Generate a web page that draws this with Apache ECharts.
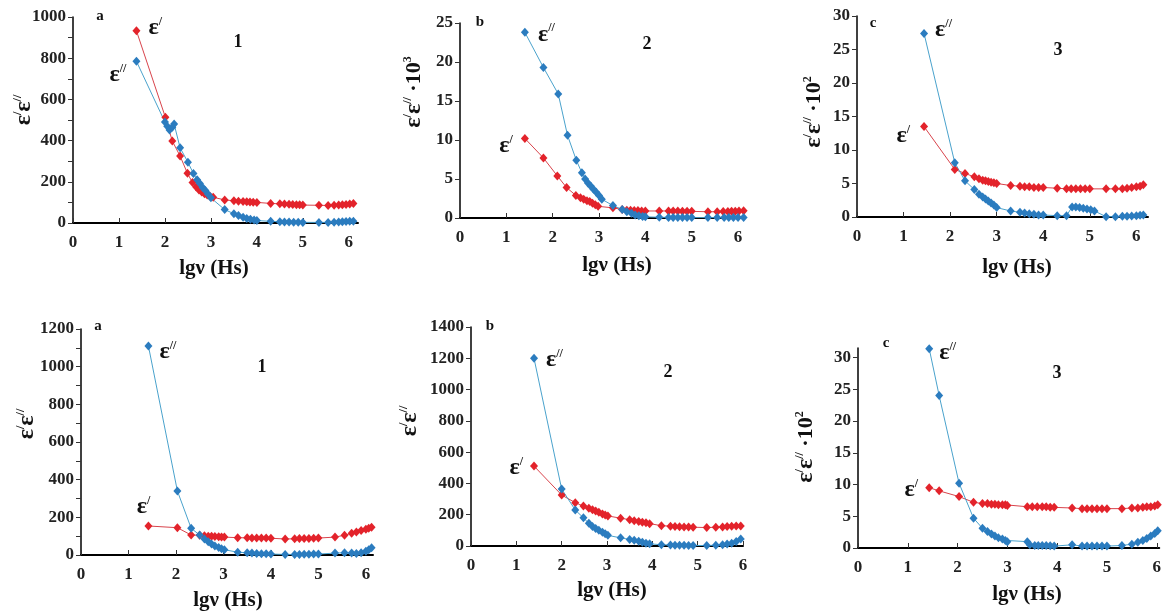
<!DOCTYPE html>
<html>
<head>
<meta charset="utf-8">
<script src="https://cdn.jsdelivr.net/npm/echarts@6/dist/echarts.min.js"></script>
<style>
  html, body { margin: 0; padding: 0; background: #fff; }
  #chart { width: 1164px; height: 615px; }
</style>
</head>
<body>
<div id="chart"></div>
<script>
// lg(nu) values on x, eps' (red) and eps'' (blue) on y
const xTickValues = [0, 1, 2, 3, 4, 5, 6];

const p1Red = [[1.38,933],[2.01,513],[2.16,398],[2.33,325],[2.49,241],[2.6,196],[2.68,175],[2.74,160],[2.8,150],[2.86,142],[2.92,136],[2.98,130],[3.05,125],[3.3,112],[3.5,108],[3.6,106],[3.7,104],[3.78,103],[3.85,102],[3.92,101],[4.0,100],[4.3,95],[4.5,93],[4.6,92],[4.7,91],[4.78,90],[4.86,89],[4.93,88],[5.0,87],[5.35,86],[5.55,85],[5.68,86],[5.78,87],[5.86,88],[5.94,90],[6.02,92],[6.1,95]];
const p1Blue = [[1.38,785],[2.0,490],[2.05,470],[2.1,452],[2.16,465],[2.2,480],[2.33,365],[2.5,295],[2.62,240],[2.7,210],[2.76,192],[2.82,172],[2.88,158],[2.94,140],[3.0,122],[3.3,65],[3.5,45],[3.6,36],[3.7,28],[3.78,22],[3.86,18],[3.94,15],[4.0,12],[4.3,8],[4.5,6],[4.6,5],[4.7,5],[4.8,4],[4.9,4],[5.0,3],[5.35,3],[5.55,3],[5.68,4],[5.78,5],[5.86,6],[5.94,7],[6.02,8],[6.1,9]];

const p2Red = [[1.4,10.2],[1.8,7.7],[2.1,5.4],[2.3,3.9],[2.5,2.9],[2.6,2.6],[2.67,2.4],[2.74,2.2],[2.8,2.1],[2.86,1.9],[2.92,1.7],[2.98,1.5],[3.3,1.3],[3.5,1.1],[3.6,1.0],[3.68,1.0],[3.76,0.95],[3.84,0.95],[3.92,0.9],[4.0,0.9],[4.3,0.9],[4.5,0.9],[4.6,0.9],[4.7,0.9],[4.8,0.88],[4.9,0.86],[5.0,0.85],[5.35,0.8],[5.55,0.8],[5.68,0.82],[5.78,0.84],[5.86,0.86],[5.94,0.88],[6.02,0.9],[6.12,0.92]];
const p2Blue = [[1.4,23.8],[1.8,19.3],[2.12,15.9],[2.32,10.6],[2.51,7.4],[2.63,5.8],[2.7,5.0],[2.76,4.5],[2.82,4.1],[2.88,3.7],[2.94,3.3],[3.0,2.9],[3.06,2.4],[3.3,1.6],[3.5,1.1],[3.6,0.8],[3.7,0.6],[3.78,0.4],[3.86,0.3],[3.94,0.2],[4.0,0.15],[4.3,0.1],[4.5,0.08],[4.6,0.07],[4.7,0.06],[4.8,0.05],[4.9,0.05],[5.0,0.05],[5.35,0.05],[5.55,0.05],[5.7,0.05],[5.8,0.05],[5.9,0.05],[6.0,0.05],[6.12,0.05]];

const p3Red = [[1.44,13.5],[2.1,7.1],[2.32,6.5],[2.52,6.0],[2.62,5.7],[2.7,5.5],[2.76,5.4],[2.82,5.3],[2.88,5.2],[2.94,5.1],[3.0,5.0],[3.3,4.7],[3.5,4.6],[3.6,4.5],[3.7,4.5],[3.8,4.4],[3.9,4.4],[4.0,4.4],[4.3,4.3],[4.5,4.2],[4.6,4.2],[4.7,4.2],[4.8,4.2],[4.9,4.2],[5.0,4.2],[5.35,4.2],[5.55,4.2],[5.7,4.2],[5.8,4.3],[5.9,4.4],[6.0,4.5],[6.08,4.6],[6.15,4.8]];
const p3Blue = [[1.44,27.4],[2.1,8.1],[2.32,5.4],[2.52,4.1],[2.62,3.4],[2.7,3.0],[2.76,2.7],[2.82,2.4],[2.88,2.1],[2.94,1.8],[3.0,1.4],[3.3,0.9],[3.5,0.7],[3.6,0.6],[3.7,0.5],[3.8,0.4],[3.9,0.3],[4.0,0.3],[4.3,0.2],[4.5,0.2],[4.62,1.5],[4.7,1.5],[4.78,1.4],[4.86,1.3],[4.94,1.2],[5.02,1.1],[5.1,0.9],[5.35,0.05],[5.55,0.05],[5.7,0.1],[5.8,0.1],[5.9,0.15],[6.0,0.2],[6.08,0.25],[6.15,0.3]];

const p4Red = [[1.42,154],[2.03,145],[2.32,106],[2.5,105],[2.6,102],[2.68,100],[2.75,99],[2.82,98],[2.9,97],[2.96,96],[3.02,95],[3.3,92],[3.5,91],[3.6,90],[3.7,90],[3.8,90],[3.9,90],[4.0,89],[4.3,85],[4.5,86],[4.6,87],[4.7,88],[4.8,88],[4.9,89],[5.0,90],[5.35,95],[5.55,105],[5.7,115],[5.8,122],[5.9,130],[6.0,137],[6.06,142],[6.12,148]];
const p4Blue = [[1.42,1110],[2.03,340],[2.32,142],[2.5,106],[2.6,85],[2.68,70],[2.75,58],[2.82,48],[2.9,40],[2.96,33],[3.02,28],[3.3,15],[3.5,12],[3.6,10],[3.7,8],[3.8,7],[3.9,6],[4.0,5],[4.3,3],[4.5,3],[4.6,3],[4.7,4],[4.8,4],[4.9,5],[5.0,5],[5.35,10],[5.55,12],[5.7,10],[5.8,8],[5.9,12],[6.0,20],[6.06,28],[6.12,38]];

const p5Red = [[1.39,511],[2.0,326],[2.3,277],[2.48,255],[2.6,242],[2.68,232],[2.75,224],[2.82,215],[2.9,205],[2.96,198],[3.02,192],[3.3,178],[3.5,168],[3.6,162],[3.7,157],[3.78,152],[3.86,148],[3.94,143],[4.2,130],[4.4,127],[4.5,125],[4.6,123],[4.7,122],[4.8,121],[4.9,120],[5.2,118],[5.4,120],[5.55,122],[5.65,124],[5.75,126],[5.85,128],[5.95,128]];
const p5Blue = [[1.39,1200],[2.0,364],[2.3,230],[2.48,180],[2.6,145],[2.68,125],[2.75,112],[2.82,100],[2.9,88],[2.96,78],[3.02,68],[3.3,52],[3.5,42],[3.6,36],[3.7,30],[3.78,24],[3.86,18],[3.94,14],[4.2,8],[4.4,6],[4.5,5],[4.6,4],[4.7,4],[4.8,3],[4.9,3],[5.2,3],[5.4,5],[5.55,8],[5.65,12],[5.75,18],[5.85,28],[5.95,45]];

const p6Red = [[1.43,9.5],[1.63,9.0],[2.03,8.1],[2.32,7.2],[2.5,7.0],[2.6,7.0],[2.68,6.9],[2.75,6.9],[2.82,6.8],[2.9,6.8],[2.96,6.8],[3.0,6.7],[3.4,6.5],[3.5,6.5],[3.6,6.5],[3.7,6.5],[3.78,6.5],[3.86,6.4],[3.94,6.4],[4.3,6.3],[4.5,6.2],[4.6,6.2],[4.7,6.2],[4.8,6.2],[4.9,6.2],[5.0,6.2],[5.3,6.2],[5.5,6.3],[5.62,6.3],[5.72,6.4],[5.8,6.5],[5.88,6.5],[5.96,6.6],[6.02,6.8]];
const p6Blue = [[1.43,31.4],[1.63,24.0],[2.03,10.2],[2.32,4.7],[2.5,3.1],[2.6,2.6],[2.68,2.2],[2.75,1.9],[2.82,1.6],[2.9,1.4],[2.96,1.2],[3.0,1.0],[3.4,1.0],[3.45,0.5],[3.55,0.4],[3.62,0.4],[3.7,0.4],[3.78,0.4],[3.86,0.35],[3.94,0.3],[4.3,0.5],[4.5,0.3],[4.6,0.3],[4.7,0.3],[4.8,0.3],[4.9,0.3],[5.0,0.3],[5.3,0.4],[5.5,0.6],[5.62,0.9],[5.72,1.2],[5.8,1.5],[5.88,1.9],[5.96,2.3],[6.02,2.7]];

const y1Ticks = [0,100,200,300,400,500,600,700,800,900,1000];
const y1Labels = [0,200,400,600,800,1000];
const y2Labels = [0,5,10,15,20,25];
const y3Labels = [0,5,10,15,20,25,30];
const y4Ticks = [0,100,200,300,400,500,600,700,800,900,1000,1100,1200];
const y4Labels = [0,200,400,600,800,1000,1200];
const y5Labels = [0,200,400,600,800,1000,1200,1400];
const y6Labels = [0,5,10,15,20,25,30];

const FONT = 'Liberation Serif';
const RED = '#e3232b';
const RED_LINE = '#d8434b';
const BLUE = '#2b7cbf';
const BLUE_LINE = '#4aa2cc';

const panels = [
  { grid: [73, 17, 285, 206], xMax: 6.2, yMax: 1000, yTicks: y1Ticks, yLabels: y1Labels, red: p1Red, blue: p1Blue,
    redLab: ['right', [3, -3]], blueLab: ['left', [-1, 14]],
    letter: ['a', 100, 16], num: ['1', 238, 42], xName: [214, 269], yName: [24, 110, false] },
  { grid: [460, 23, 285, 195], xMax: 6.15, yMax: 25, yTicks: y2Labels, yLabels: y2Labels, red: p2Red, blue: p2Blue,
    redLab: ['left', [-3, 7]], blueLab: ['right', [4, 2]],
    letter: ['b', 480, 22], num: ['2', 647, 44], xName: [617, 266], yName: [414, 92, '3'] },
  { grid: [857, 16, 291, 201], xMax: 6.25, yMax: 30, yTicks: y3Labels, yLabels: y3Labels, red: p3Red, blue: p3Blue,
    redLab: ['left', [-5, 9]], blueLab: ['right', [2, -4]],
    letter: ['c', 873, 23], num: ['3', 1058, 50], xName: [1017, 268], yName: [814, 112, '2'] },
  { grid: [81, 329, 292, 226], xMax: 6.15, yMax: 1200, yTicks: y4Ticks, yLabels: y4Labels, red: p4Red, blue: p4Blue,
    redLab: ['top', [-5, 2]], blueLab: ['right', [2, 6]],
    letter: ['a', 98, 326], num: ['1', 262, 367], xName: [228, 601], yName: [27, 424, false] },
  { grid: [471, 327, 272, 219], xMax: 6.0, yMax: 1400, yTicks: y5Labels, yLabels: y5Labels, red: p5Red, blue: p5Blue,
    redLab: ['left', [-2, 2]], blueLab: ['right', [3, 2]],
    letter: ['b', 490, 326], num: ['2', 668, 372], xName: [612, 591], yName: [410, 421, false] },
  { grid: [858, 348, 304, 200], xMax: 6.05, yMax: 31.5, yTicks: y6Labels, yLabels: y6Labels, red: p6Red, blue: p6Blue,
    redLab: ['left', [-2, 2]], blueLab: ['right', [1, 4]],
    letter: ['c', 886, 343], num: ['3', 1057, 373], xName: [1027, 595], yName: [806, 447, '2'] }
];

const epsRich = {
  e: { fontFamily: FONT, fontWeight: 'bold', fontSize: 24, color: '#111' },
  s: { fontFamily: FONT, fontWeight: 'bold', fontSize: 12, color: '#111', verticalAlign: 'top', padding: [0, 0, 10, 0] },
  t: { fontFamily: FONT, fontWeight: 'bold', fontSize: 22, color: '#111' }
};

function pointLabel(text, lab) {
  return {
    show: true,
    position: lab[0],
    offset: lab[1],
    formatter: text,
    rich: epsRich
  };
}

function makeSeries(p, i, pts, color, lineColor, text, lab) {
  return {
    type: 'line',
    xAxisIndex: i,
    yAxisIndex: i,
    symbol: 'diamond',
    symbolSize: [8, 9],
    showAllSymbol: true,
    itemStyle: { color: color },
    lineStyle: { color: lineColor, width: 1 },
    emphasis: { disabled: true },
    data: pts.map((d, k) => k === 0 ? { value: d, label: pointLabel(text, lab) } : d)
  };
}

const labelStyle = { color: '#222', fontFamily: FONT, fontWeight: 'bold', fontSize: 17, formatter: v => String(v) };

const option = {
  animation: false,
  textStyle: { fontFamily: FONT },
  grid: panels.map(p => ({ left: p.grid[0], top: p.grid[1], width: p.grid[2], height: p.grid[3] })),
  xAxis: panels.map((p, i) => ({
    type: 'value', gridIndex: i, min: 0, max: p.xMax,
    axisLine: { show: true, onZero: false, lineStyle: { color: '#000', width: 2 } },
    axisTick: { show: true, inside: true, length: 5, customValues: xTickValues, lineStyle: { color: '#333' } },
    axisLabel: Object.assign({ margin: 11, customValues: xTickValues }, labelStyle),
    splitLine: { show: false }
  })),
  yAxis: panels.map((p, i) => ({
    type: 'value', gridIndex: i, min: 0, max: p.yMax,
    axisLine: { show: true, lineStyle: { color: '#000', width: 1.5 } },
    axisTick: { show: true, length: 5, customValues: p.yTicks, lineStyle: { color: '#333' } },
    axisLabel: Object.assign({ margin: 7, customValues: p.yLabels }, labelStyle),
    splitLine: { show: false }
  })),
  series: [],
  graphic: []
};

panels.forEach((p, i) => {
  option.series.push(makeSeries(p, i, p.red, RED, RED_LINE, '{e|ε}{s|/}', p.redLab));
  option.series.push(makeSeries(p, i, p.blue, BLUE, BLUE_LINE, '{e|ε}{s|//}', p.blueLab));

  const t = (txt, x, y, size) => ({
    type: 'text', x: x, y: y, silent: true,
    style: { text: txt, fill: '#111', fontFamily: FONT, fontWeight: 'bold', fontSize: size,
      textAlign: 'center', textVerticalAlign: 'middle', align: 'center', verticalAlign: 'middle' }
  });
  option.graphic.push(t(p.letter[0], p.letter[1], p.letter[2], 15));
  option.graphic.push(t(p.num[0], p.num[1], p.num[2], 18));
  option.graphic.push(t('lgν (Hs)', p.xName[0], p.xName[1], 21));

  let yText = '{e|ε}{s|/}{e|ε}{s|//}';
  if (p.yName[2]) yText += '{t| ·10}{s|' + p.yName[2] + '}';
  option.graphic.push({
    type: 'text', x: p.yName[0], y: p.yName[1], rotation: Math.PI / 2, silent: true,
    style: { text: yText, rich: epsRich, fill: '#111', fontFamily: FONT, fontWeight: 'bold', fontSize: 24,
      textAlign: 'center', textVerticalAlign: 'middle', align: 'center', verticalAlign: 'middle' }
  });
});

const myChart = echarts.init(document.getElementById('chart'), null, { renderer: 'canvas' });
myChart.setOption(option);
</script>
</body>
</html>
